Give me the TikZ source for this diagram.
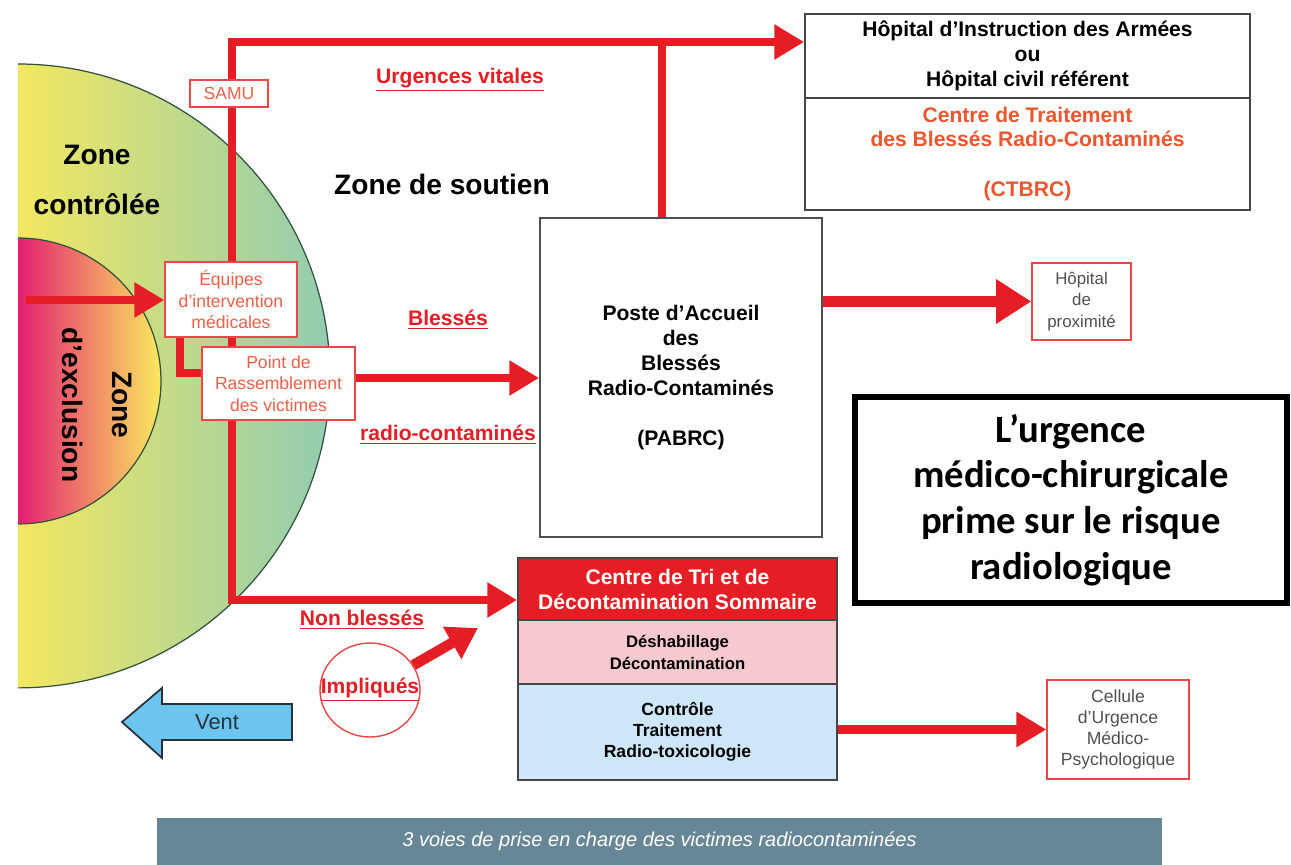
\documentclass[tikz,border=0pt]{standalone}
\usepackage{fontspec}
\setmainfont{Liberation Sans}
\newfontfamily\calibri{Carlito}
\usetikzlibrary{arrows.meta,shapes.geometric}
\definecolor{linered}{RGB}{228,30,36}
\definecolor{boxred}{RGB}{232,72,72}
\definecolor{boxtext}{RGB}{236,96,72}
\definecolor{ctbrcred}{RGB}{234,86,46}
\definecolor{darkgrey}{RGB}{70,70,70}
\definecolor{softgrey}{RGB}{80,80,80}
\definecolor{pinkfill}{RGB}{246,201,206}
\definecolor{bluefill}{RGB}{206,231,248}
\definecolor{ventblue}{RGB}{108,197,238}
\definecolor{ventline}{RGB}{40,50,60}
\definecolor{captionblue}{RGB}{103,135,151}
\definecolor{zoneyellow}{RGB}{242,232,96}
\definecolor{zonemid}{RGB}{214,226,140}
\definecolor{zonegreen}{RGB}{146,204,178}
\definecolor{zoneline}{RGB}{50,80,60}
\definecolor{exclpink}{RGB}{228,32,112}
\definecolor{exclorange}{RGB}{246,160,84}
\definecolor{exclyellow}{RGB}{250,234,96}
\pgfdeclarelayer{zones}
\pgfdeclarelayer{links}
\pgfsetlayers{zones,links,main}
\tikzset{
  redline/.style={draw=linered, line width=5pt},
  redarrow/.style={redline, -{Triangle[length=17pt,width=19pt]}},
  redbox/.style={draw=boxred, line width=0.8pt, fill=white, text=boxtext, align=center, inner sep=2pt, font=\fontsize{10}{12.2}\selectfont},
  greybox/.style={draw=softgrey, line width=1pt, fill=white, align=center, inner sep=2pt, font=\bfseries\fontsize{12}{14.2}\selectfont},
  stackbox/.style={draw=darkgrey, line width=1pt, align=center, inner sep=2pt, minimum width=6.38cm},
  zonetext/.style={align=center, font=\bfseries\fontsize{16}{28}\selectfont},
  flowlabel/.style={text=linered, font=\bfseries\fontsize{12}{14}\selectfont}
}
\begin{document}
\begin{tikzpicture}[x=0.02cm, y=-0.02cm]
\useasboundingbox (0,0) rectangle (1291,865);

\begin{pgfonlayer}{zones}
\shade[left color=zoneyellow, middle color=zonemid, right color=zonegreen] (18,64) arc[start angle=90, end angle=-90, radius=6.24cm] -- cycle;
\draw[zoneline, line width=0.7pt] (18,64) arc[start angle=90, end angle=-90, radius=6.24cm];
\shade[left color=exclpink, middle color=exclorange, right color=exclyellow] (18,238) arc[start angle=90, end angle=-90, radius=2.86cm] -- cycle;
\draw[zoneline, line width=0.7pt] (18,238) arc[start angle=90, end angle=-90, radius=2.86cm];
\end{pgfonlayer}

\node[zonetext] (controlee) at (97,180) {Zone\\contrôlée};
\node[zonetext, rotate=-90] (exclusion) at (97,405) {Zone\\d'exclusion};
\node[zonetext] (soutien) at (442,184) {Zone de soutien};

\node[redbox, minimum width=1.56cm, minimum height=0.54cm] (samu) at (229,93.5) {SAMU};
\node[redbox, minimum width=2.64cm, minimum height=1.5cm] (equipes) at (231,299.5) {Équipes\\d'intervention\\médicales};
\node[redbox, minimum width=3.06cm, minimum height=1.46cm] (rassemblement) at (278.5,383.5) {Point de\\Rassemblement\\des victimes};

\node[greybox, minimum width=5.64cm, minimum height=6.38cm] (pabrc) at (681,377.5) {Poste d'Accueil\\des\\Blessés\\Radio-Contaminés\\[14.2pt](PABRC)};
\node[greybox, draw=darkgrey, minimum width=8.9cm, minimum height=1.68cm] (hiat) at (1027.5,56) {Hôpital d'Instruction des Armées\\ou\\Hôpital civil référent};
\node[greybox, draw=darkgrey, text=ctbrcred, minimum width=8.9cm, minimum height=2.24cm] (ctbrc) at (1027.5,154) {Centre de Traitement\\des Blessés Radio-Contaminés\\[14.2pt](CTBRC)};
\node[redbox, text=softgrey, font=\fontsize{9.6}{12.2}\selectfont, minimum width=1.98cm, minimum height=1.54cm] (proximite) at (1081.5,301.5) {Hôpital\\de\\proximité};

\node[draw=black, line width=3.4pt, minimum width=8.64cm, minimum height=4.12cm, align=center, font=\calibri\bfseries\fontsize{22}{26}\selectfont] (message) at (1071,500) {L’urgence\\médico-chirurgicale\\prime sur le risque\\radiologique};

\node[stackbox, fill=linered, text=white, minimum height=1.24cm, font=\bfseries\fontsize{12}{14.2}\selectfont] (tri) at (677.5,589) {Centre de Tri et de\\Décontamination Sommaire};
\node[stackbox, fill=pinkfill, minimum height=1.28cm, font=\bfseries\fontsize{9.5}{12.5}\selectfont] (deshabillage) at (677.5,652) {Déshabillage\\Décontamination};
\node[stackbox, fill=bluefill, minimum height=1.92cm, font=\bfseries\fontsize{10}{12}\selectfont] (controle) at (677.5,732) {Contrôle\\Traitement\\Radio-toxicologie};
\node[redbox, text=softgrey, minimum width=2.84cm, minimum height=1.98cm, font=\fontsize{10}{12.1}\selectfont] (cellule) at (1118,729.5) {Cellule\\d'Urgence\\Médico-\\Psychologique};

\node[draw=boxred, line width=0.8pt, ellipse, minimum width=2cm, minimum height=1.88cm, inner sep=0pt] (impliques) at (370,690) {};
\node[flowlabel] (impliqueslabel) at (370,690) {\underline{Impliqués}};

\node[flowlabel] (vitales) at (460,80) {\underline{Urgences vitales}};
\node[flowlabel] (blesses) at (448,320) {\underline{Blessés}};
\node[flowlabel] (radiocont) at (448,435) {\underline{radio-contaminés}};
\node[flowlabel] (nonblesses) at (362,620) {\underline{Non blessés}};

\draw[ventline, fill=ventblue, line width=1pt] (292,704) -- (162,704) -- (162,688) -- (122,722) -- (162,758) -- (162,740) -- (292,740) -- cycle;
\node[text=ventline, font=\fontsize{12.4}{14}\selectfont] (vent) at (217,722) {Vent};

\node[fill=captionblue, text=white, minimum width=20.1cm, minimum height=0.94cm, font=\itshape\fontsize{11.4}{13}\selectfont] (caption) at (659.5,841.5) {3 voies de prise en charge des victimes radiocontaminées};

\coordinate (top) at (232,42);
\coordinate (corner) at (232,600);
\coordinate (junction) at (662,42);
\coordinate (entry) at (26,300);
\coordinate (link) at (180,373);
\coordinate (flow) at (450,378);
\coordinate (totri) at (478,628);

\begin{pgfonlayer}{links}
\draw[redline, {Triangle[length=17pt,width=19pt]}-{Triangle[length=17pt,width=19pt]}] (top -| hiat.west) -- (top) -- (corner) -- (tri.west |- corner);
\draw[redline] (pabrc.north -| junction) -- (junction);
\draw[redarrow] (entry) -- (equipes.west |- entry);
\draw[redline, line width=4pt] (equipes.south -| link) |- (rassemblement.west |- link);
\draw[redarrow] (rassemblement.east |- flow) -- (pabrc.west |- flow);
\draw[redline, line width=6pt, -{Triangle[length=20pt,width=24pt]}] (pabrc.east |- proximite) -- (proximite.west);
\draw[redarrow] (controle.east |- cellule) -- (cellule.west);
\draw[redline, line width=6pt, -{Triangle[length=17pt,width=20pt]}] (impliques) -- (totri);
\end{pgfonlayer}
\end{tikzpicture}
\end{document}
